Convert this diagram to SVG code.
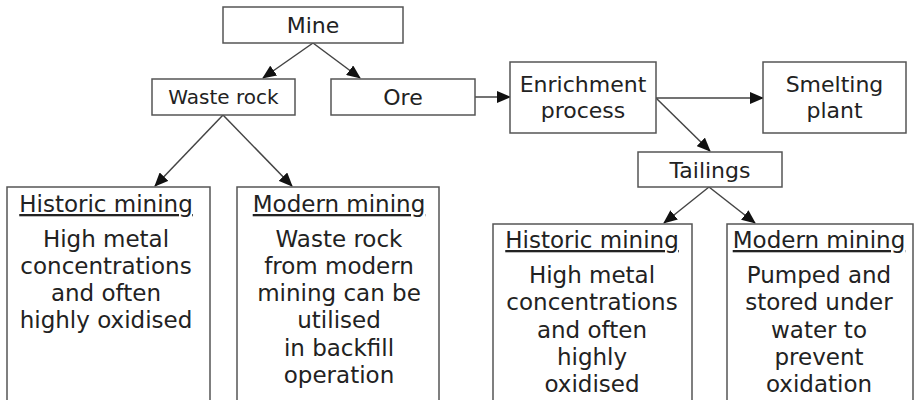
<svg xmlns="http://www.w3.org/2000/svg" width="916" height="400" viewBox="0 0 916 400">
<defs>
<marker id="ah" viewBox="0 0 14 12" refX="13" refY="6" markerWidth="14" markerHeight="12" markerUnits="userSpaceOnUse" orient="auto">
<path d="M0,0 L14,6 L0,12 Z" fill="#111"/>
</marker>
<style>
.box{fill:#fff;stroke:#555;stroke-width:1.5}
.t{font-family:"DejaVu Sans",Verdana,sans-serif;font-size:22px;fill:#222;text-anchor:middle}
.b{font-family:"DejaVu Sans",Verdana,sans-serif;font-size:23px;fill:#222;text-anchor:middle}
.u{text-decoration:underline}
.c{stroke:#444;stroke-width:1.5;fill:none;marker-end:url(#ah)}
</style>
</defs>
<rect width="916" height="400" fill="#fff"/>
<g id="connectors">
<line class="c" x1="313" y1="43" x2="263" y2="78"/>
<line class="c" x1="313" y1="43" x2="360" y2="78"/>
<line class="c" x1="475" y1="97" x2="510" y2="97"/>
<line class="c" x1="656" y1="98" x2="763" y2="98"/>
<line class="c" x1="656" y1="98" x2="710" y2="151"/>
<line class="c" x1="223" y1="115" x2="155" y2="186"/>
<line class="c" x1="223" y1="115" x2="292" y2="186"/>
<line class="c" x1="709" y1="187" x2="664" y2="223"/>
<line class="c" x1="709" y1="187" x2="755" y2="223"/>
</g>
<g id="mine"><rect class="box" x="223" y="7" width="180" height="36"/><text class="t" x="313" y="33">Mine</text></g>
<g id="waste-rock"><rect class="box" x="152" y="79" width="143" height="36"/><text class="t" x="223.5" y="104" style="font-size:20px">Waste rock</text></g>
<g id="ore"><rect class="box" x="331" y="79" width="144" height="36"/><text class="t" x="403" y="105">Ore</text></g>
<g id="enrichment"><rect class="box" x="510" y="62" width="146" height="71"/><text class="t" x="583" y="92">Enrichment</text><text class="t" x="583" y="118">process</text></g>
<g id="smelting"><rect class="box" x="763" y="62" width="143" height="71"/><text class="t" x="834.5" y="92">Smelting</text><text class="t" x="834.5" y="118">plant</text></g>
<g id="tailings"><rect class="box" x="638" y="152" width="144" height="35"/><text class="t" x="710" y="178">Tailings</text></g>
<g id="wr-historic"><rect class="box" x="7" y="187" width="203" height="230"/>
<text class="b u" x="106" y="212">Historic mining</text>
<text class="b" x="106" y="247">High metal</text>
<text class="b" x="106" y="274">concentrations</text>
<text class="b" x="106" y="301">and often</text>
<text class="b" x="106" y="328">highly oxidised</text>
</g>
<g id="wr-modern"><rect class="box" x="237" y="187" width="202" height="230"/>
<text class="b u" x="339" y="212">Modern mining</text>
<text class="b" x="339" y="247">Waste rock</text>
<text class="b" x="339" y="274">from modern</text>
<text class="b" x="339" y="301">mining can be</text>
<text class="b" x="339" y="328">utilised</text>
<text class="b" x="339" y="356">in backfill</text>
<text class="b" x="339" y="383">operation</text>
</g>
<g id="t-historic"><rect class="box" x="493" y="224" width="199" height="200"/>
<text class="b u" x="592" y="248">Historic mining</text>
<text class="b" x="592" y="283">High metal</text>
<text class="b" x="592" y="310">concentrations</text>
<text class="b" x="592" y="338">and often</text>
<text class="b" x="592" y="365">highly</text>
<text class="b" x="592" y="392">oxidised</text>
</g>
<g id="t-modern"><rect class="box" x="727" y="224" width="186" height="200"/>
<text class="b u" x="819" y="248">Modern mining</text>
<text class="b" x="819" y="283">Pumped and</text>
<text class="b" x="819" y="310">stored under</text>
<text class="b" x="819" y="338">water to</text>
<text class="b" x="819" y="365">prevent</text>
<text class="b" x="819" y="392">oxidation</text>
</g>
</svg>
